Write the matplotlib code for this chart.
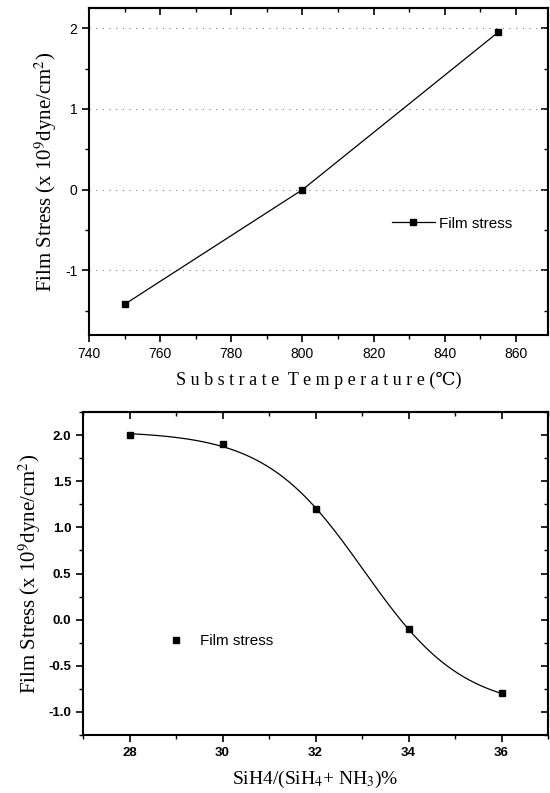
import numpy as np
import matplotlib
matplotlib.use('Agg')
import matplotlib.pyplot as plt
from matplotlib.ticker import MultipleLocator

plt.rcParams['mathtext.fontset'] = 'stix'
plt.rcParams['axes.unicode_minus'] = False

# data
temp = [750, 800, 855]
stress_t = [-1.42, 0.0, 1.95]

ratio = [28, 30, 32, 34, 36]
stress_r = [2.0, 1.9, 1.2, -0.1, -0.8]

ylabel = r'Film Stress (x 10$^9$dyne/cm$^2$)'
serif = ['Liberation Serif', 'DejaVu Serif']
sans = ['Liberation Sans', 'DejaVu Sans']

fig = plt.figure(figsize=(5.5, 7.93), dpi=100)
W, H = 550.0, 793.0


def add_axes(l, t, r, b):
    return fig.add_axes([l / W, 1 - b / H, (r - l) / W, (b - t) / H])


def side_ticks(ax, xmaj, xmin, ymaj, ymin):
    ax.xaxis.set_major_locator(MultipleLocator(xmaj))
    ax.xaxis.set_minor_locator(MultipleLocator(xmin))
    ax.yaxis.set_major_locator(MultipleLocator(ymaj))
    ax.yaxis.set_minor_locator(MultipleLocator(ymin))
    ax.tick_params(which='major', direction='out', length=5, width=1.2)
    ax.tick_params(which='minor', direction='out', length=3, width=1.0)
    top = ax.secondary_xaxis('top')
    right = ax.secondary_yaxis('right')
    for s, a in ((top, top.xaxis), (right, right.yaxis)):
        a.set_major_locator(MultipleLocator(xmaj if s is top else ymaj))
        a.set_minor_locator(MultipleLocator(xmin if s is top else ymin))
        s.tick_params(which='major', direction='in', length=5, width=1.2)
        s.tick_params(which='minor', direction='in', length=3, width=1.0)
        s.tick_params(labeltop=False, labelright=False)
        for sp in s.spines.values():
            sp.set_linewidth(1.5)
    for sp in ax.spines.values():
        sp.set_linewidth(1.5)


# ---- top panel ----
ax1 = add_axes(89, 8, 548, 335)
ax1.plot(temp, stress_t, color='black', lw=0.9, marker='s', ms=5,
         label='Film stress')
ax1.set_xlim(740, 869)
ax1.set_ylim(-1.8, 2.25)
side_ticks(ax1, 20, 10, 1, 0.5)
ax1.grid(axis='y', which='major', color='0.5', ls=(0, (1, 5)), lw=0.8)
for lab in ax1.get_xticklabels() + ax1.get_yticklabels():
    lab.set_family(sans)
    lab.set_fontsize(10)
ax1.set_xlabel('S u b s t r a t e  T e m p e r a t u r e (\u2103)', family=serif,
               fontsize=13, labelpad=8)
ax1.set_ylabel(ylabel, family=serif, fontsize=15, labelpad=4)
ax1.legend(loc='center left', bbox_to_anchor=(0.63, 0.34), frameon=False,
           handlelength=2.8, handletextpad=0.3, prop={'family': sans, 'size': 11})

# ---- bottom panel ----
ax2 = add_axes(83, 412, 548, 735)
ax2.plot(ratio, stress_r, ls='none', marker='s', ms=5, color='black',
         label='Film stress')

# Boltzmann sigmoid fit through the points
xr = np.array(ratio, float)
yr = np.array(stress_r, float)
best = None
for x0 in np.linspace(31, 35, 201):
    for dx in np.linspace(0.3, 2.5, 221):
        s = 1 / (1 + np.exp((xr - x0) / dx))
        M = np.column_stack([s, 1 - s])
        coef, *_ = np.linalg.lstsq(M, yr, rcond=None)
        err = np.sum((M @ coef - yr) ** 2)
        if best is None or err < best[0]:
            best = (err, x0, dx, coef)
_, x0, dx, (a1, a2) = best
xf = np.linspace(xr.min(), xr.max(), 200)
sf = 1 / (1 + np.exp((xf - x0) / dx))
ax2.plot(xf, a1 * sf + a2 * (1 - sf), color='black', lw=0.9)

ax2.set_xlim(27, 37)
ax2.set_ylim(-1.25, 2.25)
side_ticks(ax2, 2, 1, 0.5, 0.25)
for lab in ax2.get_xticklabels() + ax2.get_yticklabels():
    lab.set_family(sans)
    lab.set_fontsize(9.5)
    lab.set_weight('bold')
ax2.set_xlabel(r'SiH4/(SiH$_4$+ NH$_3$)%', family=serif, fontsize=14, labelpad=7)
ax2.set_ylabel(ylabel, family=serif, fontsize=15, labelpad=4)
ax2.legend(loc='center left', bbox_to_anchor=(0.15, 0.29), frameon=False,
           handlelength=1.2, handletextpad=1.0, prop={'family': sans, 'size': 11})

fig.savefig('out.png', dpi=100)
